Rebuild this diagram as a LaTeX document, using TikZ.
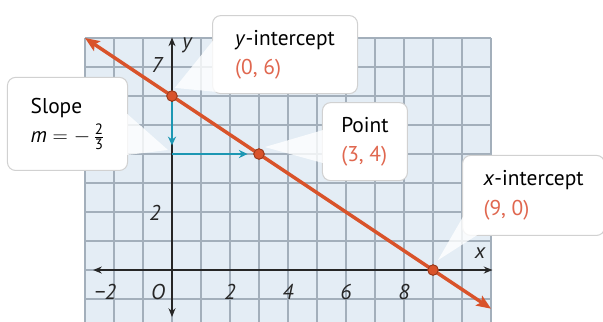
\documentclass[tikz,border=0pt]{standalone}
\usepackage{fontspec}
\usepackage{amsmath}
\setmainfont{PT Sans}
\usetikzlibrary{arrows.meta}
\definecolor{gridfill}{HTML}{E4EDF5}
\definecolor{gridline}{HTML}{A3AFBB}
\definecolor{lineorange}{HTML}{D9532A}
\definecolor{coordred}{HTML}{E0674F}
\definecolor{runteal}{HTML}{1C97B3}

\begin{document}
\begin{tikzpicture}[
    every node/.style={font=\fontsize{21}{29}\selectfont},
    callout/.style={draw=black!18, line width=1pt, fill=white, rounded corners=8pt, align=left, anchor=north west, inner sep=0pt},
    tail/.style={fill=white, fill opacity=0.8},
    dot/.style={circle, fill=lineorange, draw=lineorange!70!black, line width=0.8pt, inner sep=0pt, minimum size=0.36cm},
    tick/.style={font=\fontsize{21}{24}\selectfont\itshape, text=black!85},
    axis/.style={{Stealth[length=3mm,width=2.4mm]}-{Stealth[length=3mm,width=2.4mm]}, line width=1.4pt, black!85},
    run/.style={-{Stealth[length=3mm,width=2.8mm]}, line width=1.8pt, runteal},
    trend/.style={{Stealth[length=5mm,width=4mm,inset=1mm]}-{Stealth[length=5mm,width=4mm,inset=1mm]}, line width=3.4pt, lineorange}
]
\useasboundingbox (-5.93,-1.79) rectangle (14.86,9.31);
\fill[gridfill] (-3,-1.79) rectangle (11,8);
\draw[gridline, line width=1.5pt] (-3,-1.79) grid (11,8);

\coordinate (xleft) at (-2.72,0);
\coordinate (xright) at (11.05,0);
\coordinate (ybottom) at (0,-1.62);
\coordinate (ytop) at (0,8.02);
\draw[axis] (xleft) -- (xright);
\draw[axis] (ybottom) -- (ytop);

\node[tick] (ylab) at (0.52,7.76) {y};
\node[tick] (xlab) at (10.62,0.59) {x};
\node[tick] (y7) at (-0.52,7.07) {7};
\node[tick] (y2) at (-0.59,1.97) {2};
\node[tick] (orig) at (-0.48,-0.76) {O};
\node[tick] (xm2) at (-2.3,-0.76) {−2};
\foreach \n in {2,4,6,8}
    \node[tick] (x\n) at (\n,-0.76) {\n};

\coordinate (c04) at (0,4);
\coordinate (lstart) at (-3,8);
\coordinate (lend) at (11,-1.333);
\node[dot] (p06) at (0,6) {};
\node[dot] (p34) at (3,4) {};
\node[dot] (p90) at (9,0) {};

\draw[run, shorten >=0.3cm] (p06) -- (c04);
\draw[run, shorten >=0.2cm] (c04) -- (p34);
\draw[trend] (lstart) -- (lend);
\node[dot] at (p06) {};
\node[dot] at (p34) {};
\node[dot] at (p90) {};

\node[callout, minimum width=5.0cm, minimum height=2.69cm] (yint) at (1.38,8.79) {\textit{y}-intercept\\\textcolor{coordred}{(0, 6)}};
\node[callout, minimum width=4.14cm, minimum height=3.21cm] (slope) at (-5.69,6.66) {Slope\\\textit{m} $= -\,\frac{\text{2}}{\text{3}}$};
\node[callout, minimum width=2.93cm, minimum height=2.69cm] (point) at (5.17,5.79) {Point\\\textcolor{coordred}{(3, 4)}};
\node[callout, minimum width=4.9cm, minimum height=2.76cm] (xint) at (10.0,3.97) {\textit{x}-intercept\\\textcolor{coordred}{(9, 0)}};

\fill[tail] ([shift={(0.05,-0.86)}]yint.north west) -- ([shift={(0.1,0.28)}]p06.center) -- ([shift={(0.42,0.05)}]yint.south west) -- cycle;
\fill[tail] ([shift={(-0.05,-1.26)}]slope.north east) -- ([shift={(-0.14,0.14)}]c04) -- ([shift={(-0.05,0.55)}]slope.south east) -- cycle;
\fill[tail] ([shift={(0.05,-0.96)}]point.north west) -- ([shift={(0.2,0.24)}]p34.center) -- ([shift={(0.05,0.62)}]point.south west) -- cycle;
\fill[tail] ([shift={(0.05,0.69)}]xint.south west) -- ([shift={(0.17,0.34)}]p90.center) -- ([shift={(0.55,0.05)}]xint.south west) -- cycle;
\end{tikzpicture}
\end{document}
